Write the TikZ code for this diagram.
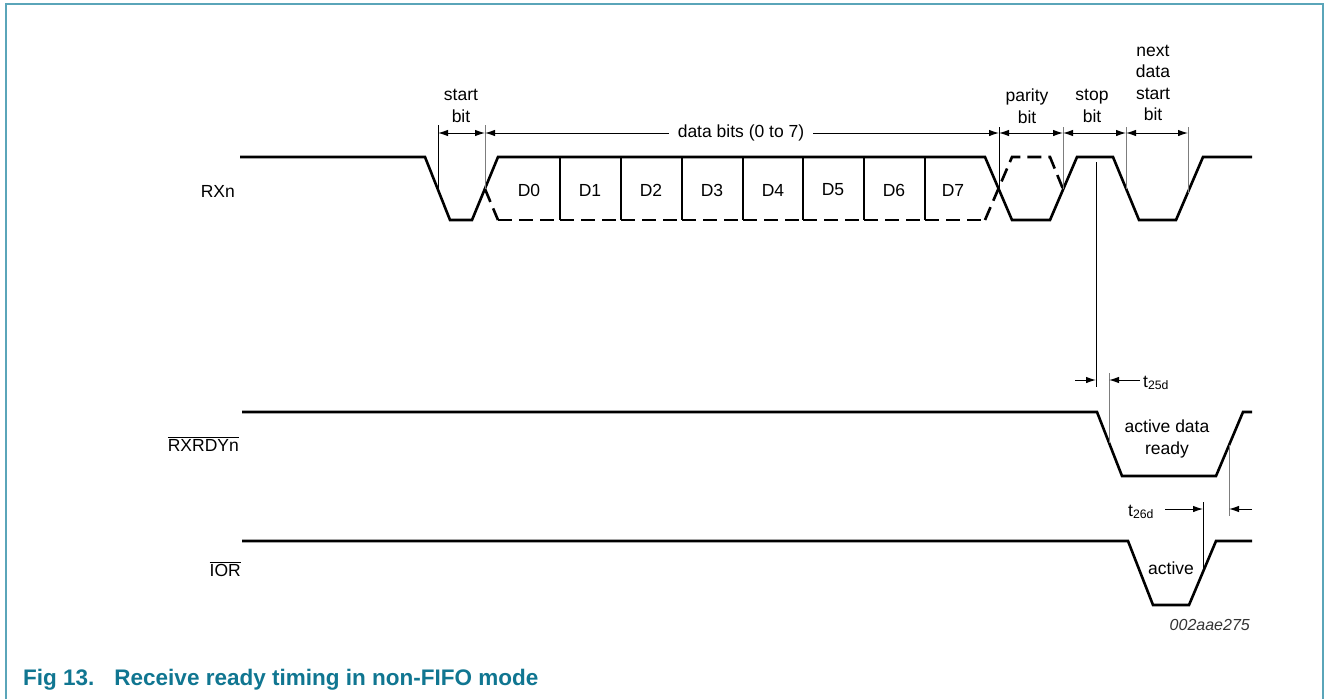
\documentclass[tikz,border=0pt]{standalone}
\usepackage{fontspec}
\setmainfont{Liberation Sans}
\usetikzlibrary{arrows.meta}
\definecolor{frameteal}{RGB}{90,165,185}
\definecolor{capteal}{RGB}{16,118,145}
\definecolor{extgray}{RGB}{125,125,125}
\tikzset{
  wave/.style={line width=2.6pt, line join=miter},
  dashwave/.style={line width=2.6pt, dash pattern=on 14pt off 7pt},
  dimline/.style={line width=1pt, {Latex[length=10pt,width=6.5pt]}-{Latex[length=10pt,width=6.5pt]}},
  tipline/.style={line width=1pt, -{Latex[length=10pt,width=6.5pt]}},
  extb/.style={line width=1pt},
  extg/.style={line width=1pt, extgray},
  lbl/.style={font=\fontsize{17.5}{21.5}\selectfont, align=center, inner sep=0pt},
  frameline/.style={line width=1.6pt, frameteal}
}
\begin{document}
\begin{tikzpicture}[x=1pt,y=-1pt]
\useasboundingbox (0,0) rectangle (1327,699);
% frame
\draw[frameline] (6,699) -- (6,4) -- (1323,4) -- (1323,699);

% ---------- RXn ----------
\draw[wave] (240,157) -- (425,157) -- (450,220) -- (472,220) -- (498,157) -- (985,157)
  -- (1012,220) -- (1050,220) -- (1077,157) -- (1113,157) -- (1139,220) -- (1176,220)
  -- (1203,157) -- (1252,157);
\draw[dashwave] (485,189) -- (498,220);
\foreach \a/\b in {498/560,560/621,621/682,682/743,743/803,803/864,864/925,925/985}
  \draw[dashwave] (\a,220) -- (\b,220);
\draw[dashwave] (985,220) -- (1012,157) -- (1050,157) -- (1063,189);
\foreach \x in {560,621,682,743,803,864,925}
  \draw[wave] (\x,157) -- (\x,220);
\foreach \n/\x in {0/529,1/590,2/651,3/712,4/773,5/833,6/894,7/953}
  \node[lbl] (d\n) at (\x,190) {D\n};
\node[lbl, anchor=base east] (rxn) at (235,197) {RXn};

% dimension markers
\coordinate (e1) at (438,125); \coordinate (e1b) at (438,190);
\coordinate (e2) at (485,125); \coordinate (e2b) at (485,189);
\coordinate (e3) at (999,127); \coordinate (e3b) at (999,190);
\coordinate (e4) at (1063,127); \coordinate (e4b) at (1063,189);
\coordinate (e5) at (1126,127); \coordinate (e5b) at (1126,189);
\coordinate (e6) at (1188,127); \coordinate (e6b) at (1188,193);
\draw[extb] (e1) -- (e1b);
\draw[extg] (e2) -- (e2b);
\draw[extb] (e3) -- (e3b);
\draw[extg] (e4) -- (e4b);
\draw[extg] (e5) -- (e5b);
\draw[extg] (e6) -- (e6b);
\coordinate (a1) at (438,133); \coordinate (a2) at (485,133);
\coordinate (a3) at (999,133); \coordinate (a4) at (1063,133);
\coordinate (a5) at (1126,133); \coordinate (a6) at (1188,133);
\draw[dimline] (a1) -- (a2);
\draw[dimline] (a2) -- (a3);
\draw[dimline] (a3) -- (a4);
\draw[dimline] (a4) -- (a5);
\draw[dimline] (a5) -- (a6);
\node[lbl, fill=white, inner xsep=9pt, inner ysep=3pt] (dbits) at (741,133) {data bits (0 to 7)};
\node[lbl] (startbit) at (461,106) {start\\bit};
\node[lbl] (paritybit) at (1027,106) {parity\\bit};
\node[lbl] (stopbit) at (1092,106) {stop\\bit};
\node[lbl] (nextbit) at (1153,83) {next\\data\\start\\bit};

% ---------- RXRDYn ----------
\draw[wave] (242,412) -- (1097,412) -- (1122,476) -- (1216,476) -- (1243,412) -- (1252,412);
\node[lbl, anchor=base east] (rxrdy) at (239,451) {$\overline{\mbox{RXRDYn}}$};
\node[lbl] (adr) at (1167,439) {active data\\ready};

% t25d
\coordinate (s1) at (1096,162); \coordinate (s1b) at (1096,387);
\coordinate (s2) at (1109,373); \coordinate (s2b) at (1109,443);
\draw[extb] (s1) -- (s1b);
\draw[extg] (s2) -- (s2b);
\coordinate (t1a) at (1075,380); \coordinate (t1b) at (1096,380);
\coordinate (t2a) at (1140,380); \coordinate (t2b) at (1109,380);
\draw[tipline] (t1a) -- (t1b);
\draw[tipline] (t2a) -- (t2b);
\node[lbl, anchor=base west] (t25) at (1143,387) {t\textsubscript{25d}};

% ---------- IOR ----------
\draw[wave] (242,541) -- (1128,541) -- (1153,605) -- (1189,605) -- (1216,541) -- (1252,541);
\node[lbl, anchor=base east] (ior) at (241,576) {$\overline{\mbox{IOR}}$};
\node[lbl] (act) at (1171,568) {active};

% t26d
\coordinate (u1) at (1203,502); \coordinate (u1b) at (1203,572);
\coordinate (u2) at (1229,445); \coordinate (u2b) at (1229,516);
\draw[extb] (u1) -- (u1b);
\draw[extg] (u2) -- (u2b);
\coordinate (v1a) at (1165,509); \coordinate (v1b) at (1203,509);
\coordinate (v2a) at (1252,509); \coordinate (v2b) at (1229,509);
\draw[tipline] (v1a) -- (v1b);
\draw[tipline] (v2a) -- (v2b);
\node[lbl, anchor=base west] (t26) at (1128,516) {t\textsubscript{26d}};

% id and caption
\node[font=\fontsize{16}{19}\selectfont\itshape, anchor=base east, inner sep=0pt, text=black!80] (figid) at (1250,630) {002aae275};
\node[font=\fontsize{22.5}{27}\selectfont\bfseries, anchor=base west, inner sep=0pt, text=capteal] (cap) at (23,685) {Fig 13.\hspace{20pt}Receive ready timing in non-FIFO mode};
\end{tikzpicture}
\end{document}
